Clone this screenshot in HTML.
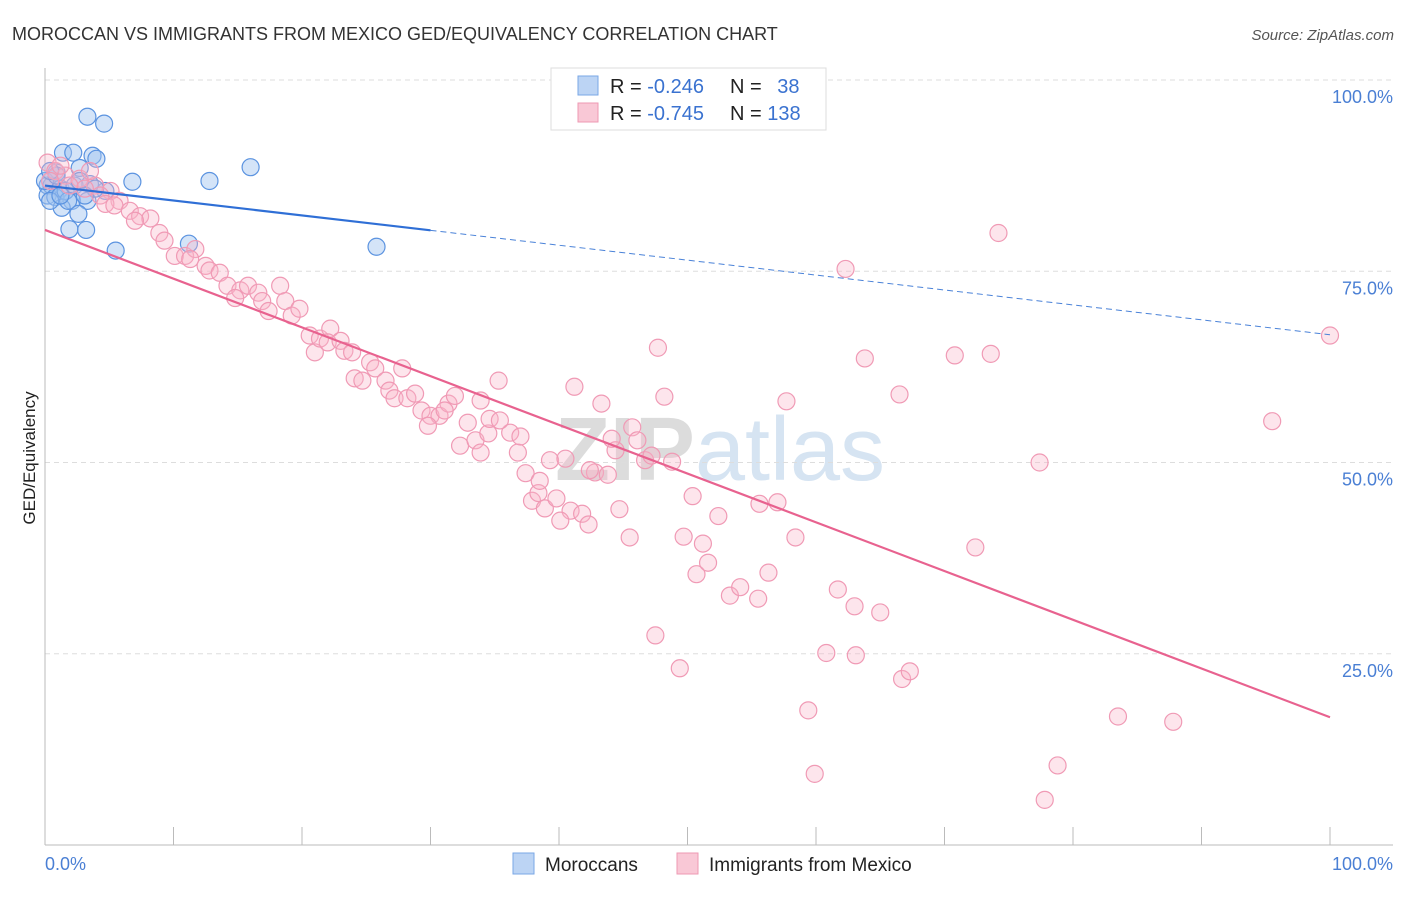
<!DOCTYPE html>
<html><head><meta charset="utf-8"><style>
body{margin:0;background:#fff;font-family:"Liberation Sans",sans-serif;}
svg text{font-family:"Liberation Sans",sans-serif;}
</style></head><body>
<svg id="chart" width="1406" height="892" xmlns="http://www.w3.org/2000/svg">
<text x="12" y="40" font-size="18" fill="#333">MOROCCAN VS IMMIGRANTS FROM MEXICO GED/EQUIVALENCY CORRELATION CHART</text>
<text x="1394" y="40" font-size="15" fill="#555" font-style="italic" text-anchor="end">Source: ZipAtlas.com</text>
<text x="720" y="480" font-size="90" fill="#e4e4e4" text-anchor="middle" font-family="Liberation Serif"><tspan font-weight="bold" fill="#dcdcdc">ZIP</tspan><tspan fill="#d6e4f2">atlas</tspan></text>
<g id="grid"></g>
<g id="axes"></g>
<g id="pts"></g>
<g id="trends"></g>
<text transform="translate(35,458) rotate(-90)" font-size="17" fill="#222" text-anchor="middle">GED/Equivalency</text>
<text x="45" y="870" font-size="18" fill="#4a7fd4">0.0%</text>
<text x="1393" y="870" font-size="18" fill="#4a7fd4" text-anchor="end">100.0%</text>
<g>
<rect x="551" y="68" width="275" height="62" fill="#fff" stroke="#ddd"/>
<rect x="578" y="76" width="20" height="19" fill="#bcd4f4" stroke="#7aa7e6"/>
<text x="610" y="93" font-size="20" fill="#222">R = <tspan fill="#3a72d0">-0.246</tspan></text>
<text x="730" y="93" font-size="20" fill="#222">N = <tspan fill="#3a72d0" dx="10">38</tspan></text>
<rect x="578" y="103" width="20" height="19" fill="#f9c8d6" stroke="#ee99b3"/>
<text x="610" y="120" font-size="20" fill="#222">R = <tspan fill="#3a72d0">-0.745</tspan></text>
<text x="730" y="120" font-size="20" fill="#222">N = <tspan fill="#3a72d0">138</tspan></text>
</g>
<g>
<rect x="513" y="853" width="21" height="21" fill="#bcd4f4" stroke="#7aa7e6"/>
<text x="545" y="871" font-size="19" fill="#222">Moroccans</text>
<rect x="677" y="853" width="21" height="21" fill="#f9c8d6" stroke="#ee99b3"/>
<text x="709" y="871" font-size="19" fill="#222">Immigrants from Mexico</text>
</g>
</svg>
<script>
const yTicks=[25,50,75,100];
const yTickLabels=["25.0%","50.0%","75.0%","100.0%"];
const xTicks=[0,10,20,30,40,50,60,70,80,90,100];
const blueX=[3.3,4.6,1.4,2.2,3.7,4.0,16.0,12.8,6.8,2.7,0.9,0.2,0.5,1.2,3.5,4.7,0.2,0.8,2.1,3.3,1.3,2.6,1.9,3.2,5.5,11.2,25.8,0.4,1.6,0,2.3,0.9,2.7,3.9,1.8,0.4,1.2,3.1];
const blueY=[95.2,94.3,90.5,90.5,90.1,89.7,88.6,86.8,86.7,88.5,87.9,86.2,86.2,85.8,86.4,85.5,84.9,84.7,84.2,84.2,83.3,82.5,80.5,80.4,77.7,78.6,78.2,84.2,85.5,86.8,86.2,87.5,86.8,85.8,84.2,88.1,84.9,84.9];
const pinkX=[0.2,0.8,1.6,2.7,3.9,5.1,3.1,4.3,5.8,4.7,5.4,6.6,7.4,8.2,7.0,8.9,9.3,10.1,10.9,11.7,11.3,12.5,12.8,13.6,14.2,15.2,14.8,15.8,16.6,16.9,17.4,18.3,18.7,19.2,19.8,20.6,21.0,21.4,22.2,22.0,23.0,23.3,23.9,25.3,25.7,24.1,24.7,26.5,26.8,27.8,27.2,28.2,28.8,29.3,30.0,30.7,29.8,31.4,31.9,32.3,32.9,33.5,33.9,34.5,34.6,35.3,36.2,36.8,37.4,37.9,38.4,38.9,39.3,39.8,40.5,40.9,41.2,41.8,42.3,42.8,43.3,43.8,44.4,44.7,45.5,45.7,46.1,46.7,47.5,47.7,48.2,48.8,49.4,49.7,50.4,50.7,51.2,51.6,52.4,53.3,54.1,54.6,55.5,55.6,56.3,57.0,57.7,58.4,59.4,59.9,60.8,61.7,62.3,63.0,63.1,63.8,65.0,66.5,66.7,67.3,70.8,73.6,74.2,72.4,77.4,77.8,78.8,83.5,87.8,95.5,100,37.0,35.4,31.1,47.2,44.1,42.4,40.1,38.5,33.9,0.4,1.9,1.2,3.5];
const pinkY=[89.2,88.1,87.5,87.1,86.2,85.5,85.8,84.9,84.2,83.8,83.6,82.9,82.2,81.9,81.6,80.0,79.0,77.0,77.0,77.9,76.6,75.7,75.1,74.8,73.1,72.5,71.5,73.1,72.2,71.1,69.8,73.1,71.1,69.2,70.1,66.6,64.4,66.2,67.5,65.7,65.9,64.6,64.4,63.1,62.3,61.0,60.7,60.7,59.4,62.3,58.4,58.4,59.0,56.8,56.1,56.1,54.8,57.7,58.7,52.2,55.2,52.9,51.3,53.8,55.7,60.7,53.9,51.3,48.6,45.0,46.0,44.0,50.3,45.3,50.5,43.7,59.9,43.3,41.9,48.7,57.7,48.4,51.6,43.9,40.2,54.6,52.9,50.3,27.4,65.0,58.6,50.1,23.1,40.3,45.6,35.4,39.4,36.9,43.0,32.6,33.7,99.6,32.2,44.6,35.6,44.8,58.0,40.2,17.6,9.3,25.1,33.4,75.3,31.2,24.8,63.6,30.4,58.9,21.7,22.7,64.0,64.2,80.0,38.9,50.0,5.9,10.4,16.8,16.1,55.4,66.6,53.4,55.5,56.8,50.9,53.1,49.0,42.4,47.6,58.1,86.8,86.2,88.8,88.1];
const blueTrend=[86.2,66.7];
const pinkTrend=[80.4,16.7];
const NS="http://www.w3.org/2000/svg";
const X0=45,X1=1330,Y0=845,Y100=80;
function sx(v){return X0+(X1-X0)*v/100;}
function sy(v){return Y0-(Y0-Y100)*v/100;}
function mk(t,a,p){const e=document.createElementNS(NS,t);for(const k in a)e.setAttribute(k,a[k]);p.appendChild(e);return e;}
const grid=document.getElementById('grid'),axes=document.getElementById('axes'),pts=document.getElementById('pts'),tr=document.getElementById('trends');
yTicks.forEach((t,i)=>{
 const l=mk('line',{x1:X0,x2:1393,y1:sy(t),y2:sy(t),stroke:'#ddd','stroke-dasharray':'5,4'},grid);
 
 
 const tx=mk('text',{x:1393,y:sy(t)+23,'font-size':18,fill:'#4a7fd4','text-anchor':'end'},grid);
 tx.textContent=yTickLabels[i];
 
 
});
const ya=mk('line',{x1:X0,x2:X0,y1:68,y2:Y0,stroke:'#bbb'},axes);


const xa=mk('line',{x1:X0,x2:1393,y1:Y0,y2:Y0,stroke:'#bbb'},axes);


xTicks.forEach(t=>{
 const l=mk('line',{x1:sx(t),x2:sx(t),y1:Y0,y2:Y0-18,stroke:'#bbb'},axes);
 
 
});
blueX.forEach((x,i)=>{
 const c=mk('circle',{cx:sx(x),cy:sy(blueY[i]),r:8.5,fill:'rgba(160,196,240,0.45)',stroke:'#5b93e0','stroke-width':1.2},pts);
 
 
});
pinkX.forEach((x,i)=>{
 const c=mk('circle',{cx:sx(x),cy:sy(pinkY[i]),r:8.5,fill:'rgba(248,180,200,0.35)',stroke:'#f09ab5','stroke-width':1.2},pts);
 
 
});
function ty(tv,x){return tv[0]+(tv[1]-tv[0])*x/100;}
const b1=mk('line',{x1:sx(0),y1:sy(ty(blueTrend,0)),x2:sx(30),y2:sy(ty(blueTrend,30)),stroke:'#2f6fd6','stroke-width':2.2},tr);


const b2=mk('line',{x1:sx(30),y1:sy(ty(blueTrend,30)),x2:sx(100),y2:sy(ty(blueTrend,100)),stroke:'#4a82d8','stroke-width':1,'stroke-dasharray':'6,4'},tr);


const p1=mk('line',{x1:sx(0),y1:sy(ty(pinkTrend,0)),x2:sx(100),y2:sy(ty(pinkTrend,100)),stroke:'#e8628f','stroke-width':2.2},tr);


</script>
</body></html>
